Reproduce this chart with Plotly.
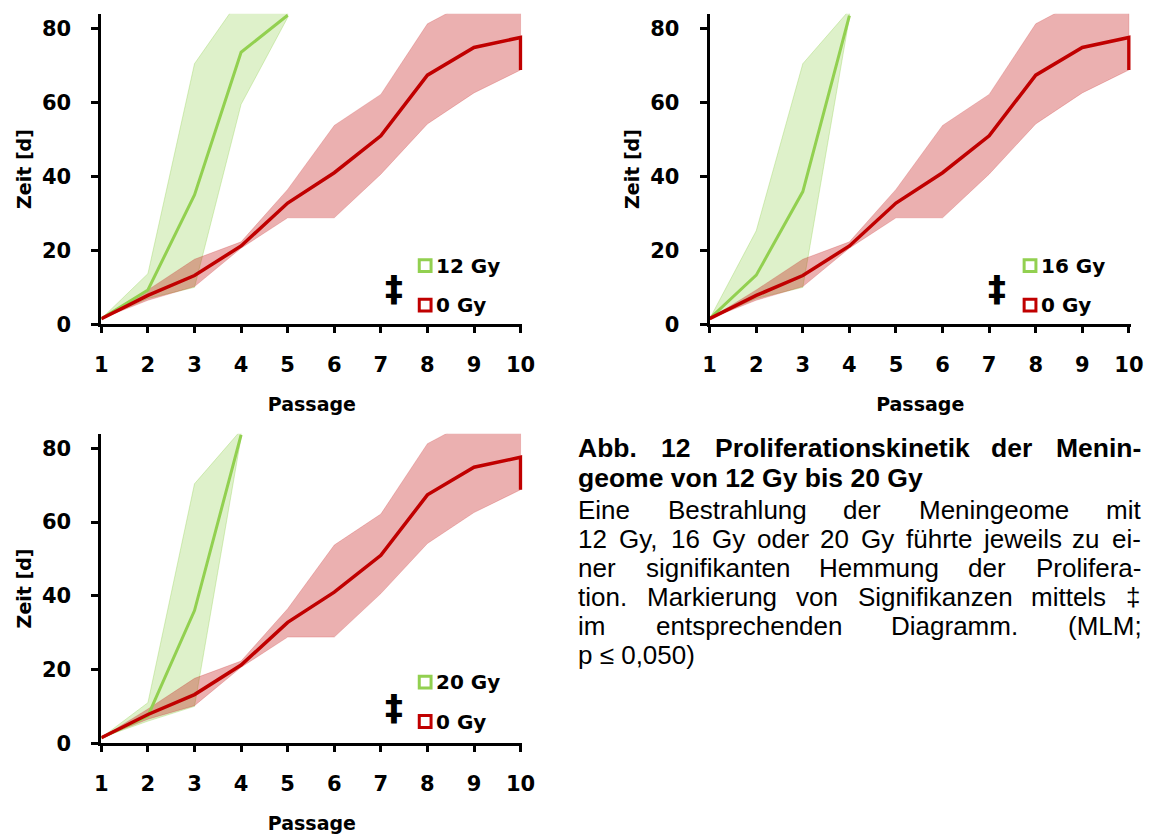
import plotly.graph_objects as go

W, H = 1159, 839

# ---------------- data ----------------
passages = [1, 2, 3, 4, 5, 6, 7, 8, 9, 10]
ctrl_mean = [1.5, 7.8, 13.2, 21.2, 32.8, 41.0, 51.0, 67.4, 74.9, 77.6]
ctrl_upper = [1.5, 9.3, 17.6, 22.3, 36.5, 53.8, 62.2, 81.3, 88.0, 92.0]
ctrl_lower = [1.5, 6.5, 10.2, 20.6, 28.8, 28.8, 40.6, 54.2, 62.6, 68.8]

g12_passages = [1, 2, 3, 4, 5]
g12_mean = [1.5, 9.3, 35.0, 73.6, 83.6]
g12_upper = [1.5, 13.7, 70.5, 88.5, 105.0]
g12_lower = [1.5, 7.0, 10.0, 59.5, 83.0]

g16_passages = [1, 2, 3, 4]
g16_mean = [1.5, 13.3, 35.9, 83.5]
g16_upper = [1.5, 25.3, 70.5, 85.0]
g16_lower = [1.5, 7.0, 10.0, 83.0]

g20_passages = [1, 2, 3, 4]
g20_mean = [1.5, 7.4, 36.0, 83.7]
g20_upper = [1.5, 11.0, 70.4, 85.0]
g20_lower = [1.5, 6.0, 10.0, 83.0]

dose_labels = ["12 Gy", "16 Gy", "20 Gy"]
ctrl_label = "0 Gy"
y_ticks = [0, 20, 40, 60, 80]
x_title = "Passage"
y_title = "Zeit [d]"
sig_mark = "‡"

caption_title = [
    "Abb. 12 Proliferationskinetik der Menin-",
    "geome von 12 Gy bis 20 Gy",
]
caption_body = [
    "Eine Bestrahlung der Meningeome mit",
    "12 Gy, 16 Gy oder 20 Gy führte jeweils zu ei-",
    "ner signifikanten Hemmung der Prolifera-",
    "tion. Markierung von Signifikanzen mittels ‡",
    "im entsprechenden Diagramm. (MLM;",
    "p ≤ 0,050)",
]

# ---------------- styles ----------------
RED = "#C00000"
RED_FILL = "rgba(192,0,0,0.31)"
RED_EDGE = "rgba(192,0,0,0.18)"
GREEN = "#92D050"
GREEN_FILL = "rgba(146,208,80,0.30)"
GREEN_EDGE = "rgba(146,208,80,0.35)"
CH_FONT = "DejaVu Sans"

def fx(px):
    return px / W

def fy(py):
    return 1 - py / H

fig = go.Figure()

panels = [
    dict(sfx="", x0=96, y0=14, y1=329, xs=g12_passages, m=g12_mean, up=g12_upper, lo=g12_lower,
         label=dose_labels[0], sq=425.5, gy=269.5, ry=309.5, dag=(394, 293)),
    dict(sfx="2", x0=715, y0=14, y1=329, xs=g16_passages, m=g16_mean, up=g16_upper, lo=g16_lower,
         label=dose_labels[1], sq=1041, gy=269.5, ry=309.5, dag=(1007, 293)),
    dict(sfx="3", x0=96, y0=440, y1=754, xs=g20_passages, m=g20_mean, up=g20_upper, lo=g20_lower,
         label=dose_labels[2], sq=425.5, gy=692, ry=732, dag=(394, 718)),
]

XMAX = 10.04
STEP = 47.4
shapes = []
annotations = []

for p in panels:
    xa = "x" + p["sfx"]
    ya = "y" + p["sfx"]
    # green band
    bx = p["xs"] + p["xs"][::-1]
    by = p["up"] + p["lo"][::-1]
    fig.add_trace(go.Scatter(x=bx, y=by, mode="lines", fill="toself", fillcolor=GREEN_FILL,
                             line=dict(color=GREEN_EDGE, width=1), xaxis=xa, yaxis=ya,
                             hoverinfo="skip", showlegend=False))
    # red band
    rx = passages + passages[::-1]
    ry = ctrl_upper + ctrl_lower[::-1]
    fig.add_trace(go.Scatter(x=rx, y=ry, mode="lines", fill="toself", fillcolor=RED_FILL,
                             line=dict(color=RED_EDGE, width=1), xaxis=xa, yaxis=ya,
                             hoverinfo="skip", showlegend=False))
    # green mean
    fig.add_trace(go.Scatter(x=p["xs"], y=p["m"], mode="lines",
                             line=dict(color=GREEN, width=3), xaxis=xa, yaxis=ya,
                             name=p["label"], showlegend=False))
    # red mean (ends with a drop to the lower bound at the last passage)
    fig.add_trace(go.Scatter(x=passages + [passages[-1]], y=ctrl_mean + [ctrl_lower[-1]], mode="lines",
                             line=dict(color=RED, width=3.5), xaxis=xa, yaxis=ya,
                             name=ctrl_label, showlegend=False))

    x1 = p["x0"] + (XMAX - 1) * STEP
    axkey = "xaxis" + p["sfx"]
    aykey = "yaxis" + p["sfx"]
    fig.update_layout(**{
        axkey: dict(domain=[fx(p["x0"]), fx(x1)], range=[1, XMAX], anchor=ya,
                    tickvals=passages, ticks="outside", ticklen=6, tickwidth=3, tickcolor="black",
                    showline=True, linewidth=3, linecolor="black", showgrid=False, zeroline=False,
                    tickfont=dict(family=CH_FONT, size=21, color="black", weight="bold"),
                    ticklabelstandoff=14,
                    title=dict(text=x_title, standoff=22,
                               font=dict(family=CH_FONT, size=19, color="black", weight="bold"))),
        aykey: dict(domain=[fy(p["y1"]), fy(p["y0"])], range=[0, 84], anchor=xa,
                    tickvals=y_ticks, ticks="outside", ticklen=7, tickwidth=3, tickcolor="black",
                    showline=True, linewidth=3, linecolor="black", showgrid=False, zeroline=False,
                    tickfont=dict(family=CH_FONT, size=21, color="black", weight="bold"),
                    ticklabelstandoff=16,
                    title=dict(text=y_title, standoff=6,
                               font=dict(family=CH_FONT, size=19, color="black", weight="bold"))),
    })

    # legend: squares + labels
    for cy, col, txt in [(p["gy"], GREEN, p["label"]), (p["ry"], RED, ctrl_label)]:
        shapes.append(dict(type="rect", xref="paper", yref="paper",
                           x0=fx(p["sq"] - 6), x1=fx(p["sq"] + 6), y0=fy(cy + 6), y1=fy(cy - 6),
                           line=dict(color=col, width=3), fillcolor="rgba(0,0,0,0)"))
        annotations.append(dict(xref="paper", yref="paper", x=fx(p["sq"] + 10), y=fy(cy),
                                xanchor="left", yanchor="middle", showarrow=False, text=txt,
                                borderpad=0,
                                font=dict(family=CH_FONT, size=20, color="black", weight="bold")))
    annotations.append(dict(xref="paper", yref="paper", x=fx(p["dag"][0]), y=fy(p["dag"][1]),
                            xanchor="center", yanchor="middle", showarrow=False, text=sig_mark,
                            font=dict(family=CH_FONT, size=36, color="black", weight="bold")))

# ---------------- caption (justified, Arial metrics) ----------------
REG = {" ": 278, "(": 333, ")": 333, ",": 278, "-": 333, ".": 278, ";": 278, "≤": 549, "‡": 556,
       "A": 667, "B": 667, "C": 722, "D": 722, "E": 667, "F": 611, "G": 778, "H": 722, "I": 278,
       "J": 500, "K": 667, "L": 556, "M": 833, "N": 722, "O": 778, "P": 667, "Q": 778, "R": 722,
       "S": 667, "T": 611, "U": 722, "V": 667, "W": 944, "X": 667, "Y": 667, "Z": 611,
       "a": 556, "b": 556, "c": 500, "d": 556, "e": 556, "f": 278, "g": 556, "h": 556, "i": 222,
       "j": 222, "k": 500, "l": 222, "m": 833, "n": 556, "o": 556, "p": 556, "q": 556, "r": 333,
       "s": 500, "t": 278, "u": 556, "v": 500, "w": 722, "x": 500, "y": 500, "z": 500, "ü": 556}
BOLD = {" ": 278, "(": 333, ")": 333, ",": 278, "-": 333, ".": 278, ";": 333,
        "A": 722, "B": 722, "C": 722, "D": 722, "E": 667, "F": 611, "G": 778, "H": 722, "I": 278,
        "J": 556, "K": 722, "L": 611, "M": 833, "N": 722, "O": 778, "P": 667, "Q": 778, "R": 722,
        "S": 667, "T": 611, "U": 722, "V": 667, "W": 944, "X": 667, "Y": 667, "Z": 611,
        "a": 556, "b": 611, "c": 556, "d": 611, "e": 556, "f": 333, "g": 611, "h": 611, "i": 278,
        "j": 278, "k": 556, "l": 278, "m": 889, "n": 611, "o": 611, "p": 611, "q": 611, "r": 389,
        "s": 556, "t": 333, "u": 611, "v": 556, "w": 778, "x": 556, "y": 556, "z": 500}
for d in "0123456789":
    REG[d] = 556
    BOLD[d] = 556

BODY_SIZE = 26
TITLE_SIZE = 26.5
LEFT, RIGHT = 580, 1152

def word_w(w, table, size):
    return sum(table.get(c, 556) for c in w) * size / 1000.0

def add_line(text, cy, bold, justify):
    table = BOLD if bold else REG
    size = TITLE_SIZE if bold else BODY_SIZE
    font = dict(family="Liberation Sans", size=size, color="black",
                weight="bold" if bold else "normal")
    if not justify:
        annotations.append(dict(xref="paper", yref="paper", x=fx(LEFT), y=fy(cy), xanchor="left",
                                yanchor="middle", showarrow=False, text=text, font=font, borderpad=0))
        return
    words = text.split(" ")
    widths = [word_w(w, table, size) for w in words]
    gap = (RIGHT - LEFT - sum(widths)) / (len(words) - 1)
    x = LEFT
    for w, wd in zip(words, widths):
        annotations.append(dict(xref="paper", yref="paper", x=fx(x), y=fy(cy), xanchor="left",
                                yanchor="middle", showarrow=False, text=w, font=font, borderpad=0))
        x += wd + gap

line_y = [454, 484.5, 517, 546.5, 576, 605.5, 635, 664.5]
add_line(caption_title[0], line_y[0], True, True)
add_line(caption_title[1], line_y[1], True, False)
for i, t in enumerate(caption_body):
    add_line(t, line_y[2 + i], False, i < len(caption_body) - 1)

fig.update_layout(width=W, height=H, margin=dict(l=0, r=0, t=0, b=0),
                  paper_bgcolor="white", plot_bgcolor="white",
                  shapes=shapes, annotations=annotations, showlegend=False)

fig.write_html("out.html")
